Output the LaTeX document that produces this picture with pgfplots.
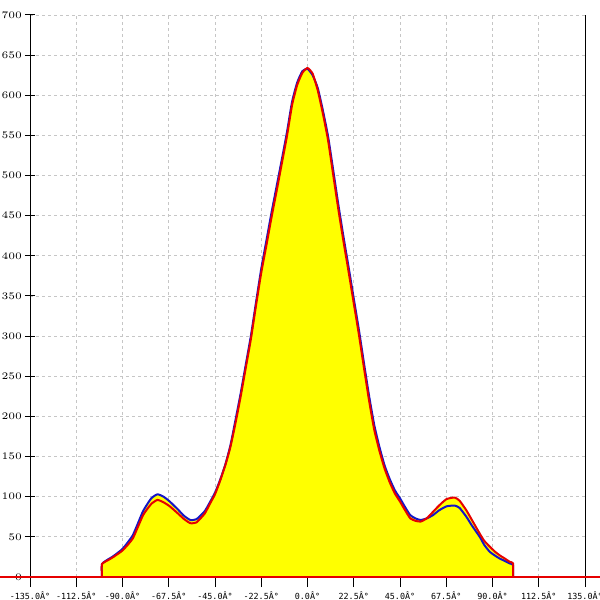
\documentclass[border=0pt]{standalone}
\usepackage{fontspec}
\usepackage{pgfplots}
\pgfplotsset{compat=1.18}
\newfontfamily\tickfont{DejaVu Sans Mono}
\definecolor{cblue}{RGB}{20,20,200}
\definecolor{cred}{RGB}{230,0,0}
\definecolor{cyel}{RGB}{255,255,0}
\pgfplotstableread{
x b r
-100 0 0
-100 16 16
-97 22 21
-95 25 24
-90 35 33
-85 52 48
-80 82 77
-76 98 91
-73 103 96
-70 100 93
-67 94 88
-63 84 79
-60 76 72
-57 71 67
-54 72 68
-50 82 79
-47.5 93 91
-45 105 103
-42.5 121 120
-40 140 139
-37.5 164 162
-35 196 192
-32.5 229 225
-30 265 261
-27.5 301 297
-25 343 339
-22.5 384 379
-20 419 413
-17.5 454 448
-15 487 481
-12.5 520 515
-10 554 549
-7.5 592 588
-5 616 613
-2.5 630 628
0 633 634
2.5 625 627
5 609 606
7.5 581 577
10 549 544
12.5 507 501
15 464 458
17.5 424 418
20 386 380
22.5 347 341
25 308 302
27.5 266 260
30 225 219
32.5 189 183
35 162 157
37.5 139 135
40 122 118
42.5 108 104
45 98 94
47.5 87 83
50 77 73
52.5 73 70
55 71 69
58 73 73
61 77 81
64 83 89
67.6 88 97
71.6 89 99
74 86 95
77.3 75 83
80 64 71
83.8 50 54
86 40 45
88.6 31.5 38
91 27 32
93.5 23 27
96 20 23
98.3 17 19
100 15 17
100 0 0
}\curvedata
\begin{document}
\begin{tikzpicture}
\begin{axis}[
  scale only axis,
  width=277.5pt, height=281pt,
  xmin=-135, xmax=135, ymin=0, ymax=700,
  clip=false,
  separate axis lines,
  x axis line style={draw=none},
  y axis line style={black, line width=0.5pt},
  xtick={-135,-112.5,-90,-67.5,-45,-22.5,0,22.5,45,67.5,90,112.5,135},
  xticklabels={-135.0Â°,-112.5Â°,-90.0Â°,-67.5Â°,-45.0Â°,-22.5Â°,0.0Â°,22.5Â°,45.0Â°,67.5Â°,90.0Â°,112.5Â°,135.0Â°},
  ytick={0,50,...,700},
  xtick pos=bottom, ytick pos=left,
  x tick style={black, line width=0.5pt},
  y tick style={black, line width=0.5pt},
  xtick align=outside, ytick align=center,
  major tick length=5pt,
  ticklabel style={font=\tickfont\fontsize{4.2}{5}\selectfont},
  xticklabel style={yshift=1pt},
  yticklabel style={xshift=2pt},
  grid=major,
  major grid style={gray!45, dash pattern=on 1.5pt off 1.5pt, line width=0.4pt},
]
\addplot[fill=cyel, draw=none, smooth, tension=0.3] table[x=x,y=b] {\curvedata} \closedcycle;
\addplot[fill=cyel, draw=none, smooth, tension=0.3] table[x=x,y=r] {\curvedata} \closedcycle;
\addplot[cblue, line width=1pt, line join=round, smooth, tension=0.3] table[x=x,y=b] {\curvedata};
\addplot[cred, line width=1pt, line join=round, smooth, tension=0.3] table[x=x,y=r] {\curvedata};
\addplot[cred, line width=1pt] coordinates {(-150,0)(150,0)};
\end{axis}
\pgfresetboundingbox
\path[use as bounding box] ([xshift=-15pt,yshift=-11.5pt]current axis.south west) rectangle ([xshift=7.5pt,yshift=7.5pt]current axis.north east);
\end{tikzpicture}
\end{document}
